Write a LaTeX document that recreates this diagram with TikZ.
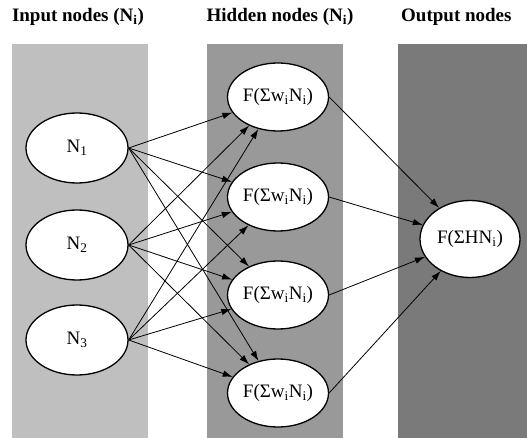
\documentclass[tikz,border=0pt]{standalone}
\usepackage{fontspec}
\setmainfont{Liberation Serif}
\usetikzlibrary{arrows.meta,shapes.geometric}
\begin{document}
\begin{tikzpicture}[x=1pt,y=-1pt,
  band/.style={draw=none},
  neuron/.style={ellipse,draw=black,line width=1.3pt,fill=white,inner sep=0pt,
    font=\fontsize{19}{22}\selectfont},
  header/.style={font=\fontsize{19}{22}\selectfont\bfseries},
  link/.style={line width=0.8pt,-{Latex[length=10pt,width=6.5pt]}}]
\useasboundingbox (0,0) rectangle (527,438);
\fill[white] (0,0) rectangle (527,438);
% layer bands
\fill[band,fill=black!25] (12,44) rectangle (148,438);
\fill[band,fill=black!40] (207,44) rectangle (343,438);
\fill[band,fill=black!52] (398,44) rectangle (527,438);
% headers
\node[header] (hin) at (78,17) {Input nodes (N\textsubscript{i})};
\node[header] (hhid) at (280,17) {Hidden nodes (N\textsubscript{i})};
\node[header,anchor=west,inner sep=0pt] (hout) at (401,17) {Output nodes};
% input nodes
\node[neuron,minimum width=102pt,minimum height=70pt] (n1) at (77,148) {N\textsubscript{1}};
\node[neuron,minimum width=102pt,minimum height=70pt] (n2) at (77,245) {N\textsubscript{2}};
\node[neuron,minimum width=102pt,minimum height=70pt] (n3) at (77,340) {N\textsubscript{3}};
% hidden nodes
\foreach \k/\y in {1/97,2/197,3/295,4/393}
  \node[neuron,minimum width=101pt,minimum height=68pt] (h\k) at (278,\y) {F(Σw\textsubscript{i}N\textsubscript{i})};
% output node
\node[neuron,minimum width=100pt,minimum height=77pt] (out) at (470,239) {F(ΣHN\textsubscript{i})};
% connections
\foreach \i in {1,2,3}
  \foreach \k in {1,2,3,4}
    \draw[link] (n\i.east) -- (h\k);
\foreach \k in {1,2,3,4}
  \draw[link] (h\k.east) -- (out);
\end{tikzpicture}
\end{document}
